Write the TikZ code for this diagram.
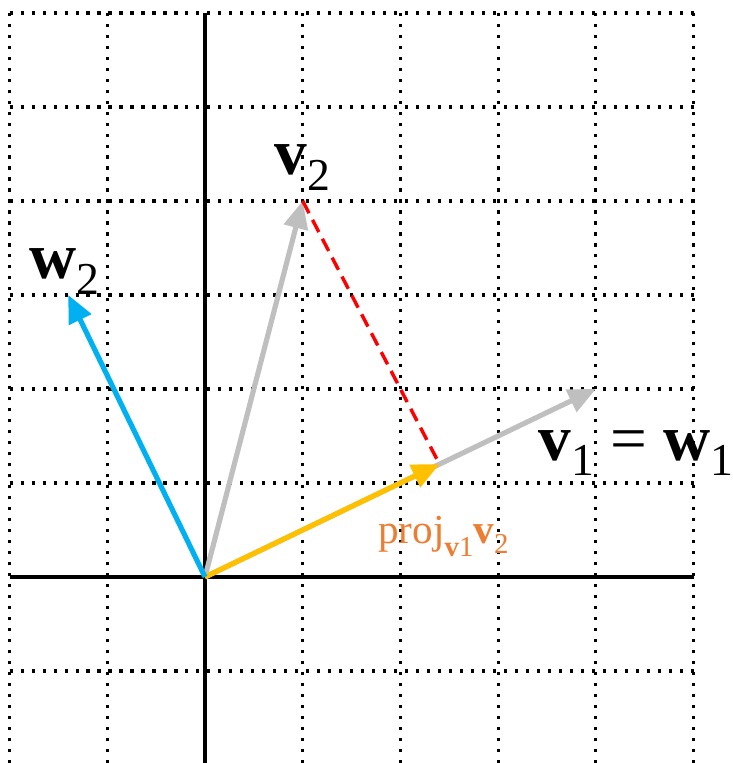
\documentclass[tikz,border=0pt]{standalone}
\usepackage{fontspec}
\setmainfont{Liberation Serif}
\usetikzlibrary{arrows.meta, positioning}

\definecolor{vecgray}{HTML}{BFBFBF}
\definecolor{vecblue}{HTML}{00B0F0}
\definecolor{vecgold}{HTML}{FFC000}
\definecolor{projorange}{HTML}{ED7D31}

\newcommand{\bvec}[2]{\textbf{#1}\raisebox{-0.24em}{\scalebox{0.7}{#2}}}

\begin{document}
\begin{tikzpicture}[
        x=1cm, y=0.962cm,
        griddots/.style={line width=0.9pt, dash pattern=on 0.9pt off 2.3pt},
        axis/.style={line width=1.2pt},
        vec/.style={line width=1.5pt, -{Triangle[length=8pt, width=7pt]}},
        lbl/.style={inner sep=0pt, font=\fontsize{19}{22}\selectfont},
        projlbl/.style={inner sep=0pt, text=projorange, font=\fontsize{12}{14}\selectfont}
    ]
    \useasboundingbox (-2.098,-1.979) rectangle (5.394,6.138);

    % Grid and axes
    \draw[griddots, step=1] (-2,-1.979) grid (5,6);
    \draw[axis] (-2,0) -- (5,0);
    \draw[axis] (0,-1.979) -- (0,6);

    % Points
    \coordinate (O) at (0,0);
    \coordinate (v1) at (4,2);
    \coordinate (v2) at (1,4);
    \coordinate (p) at (2.4,1.2);
    \coordinate (w2) at (-1.4,3);

    % Vectors
    \draw[vec, vecgray] (O) -- (v1);
    \draw[vec, vecgray] (O) -- (v2);
    \draw[vec, vecgold] (O) -- (p);
    \draw[vec, vecblue] (O) -- (w2);
    \draw[red, line width=1pt, dash pattern=on 4pt off 2.2pt] (v2) -- (p);

    % Labels
    \node[lbl, above=0.1cm of v2] (v2lbl) {\bvec{v}{2}};
    \node[lbl, above=0cm of w2, xshift=-1pt] (w2lbl) {\bvec{w}{2}};
    \node[lbl] (v1lbl) at (4.41,1.32) {\bvec{v}{1} = \bvec{w}{1}};
    \node[projlbl] (plbl) at (2.44,0.43) {proj\raisebox{-0.3em}{\scalebox{0.7}{\textbf{v}1}}\bvec{v}{2}};

\end{tikzpicture}
\end{document}
